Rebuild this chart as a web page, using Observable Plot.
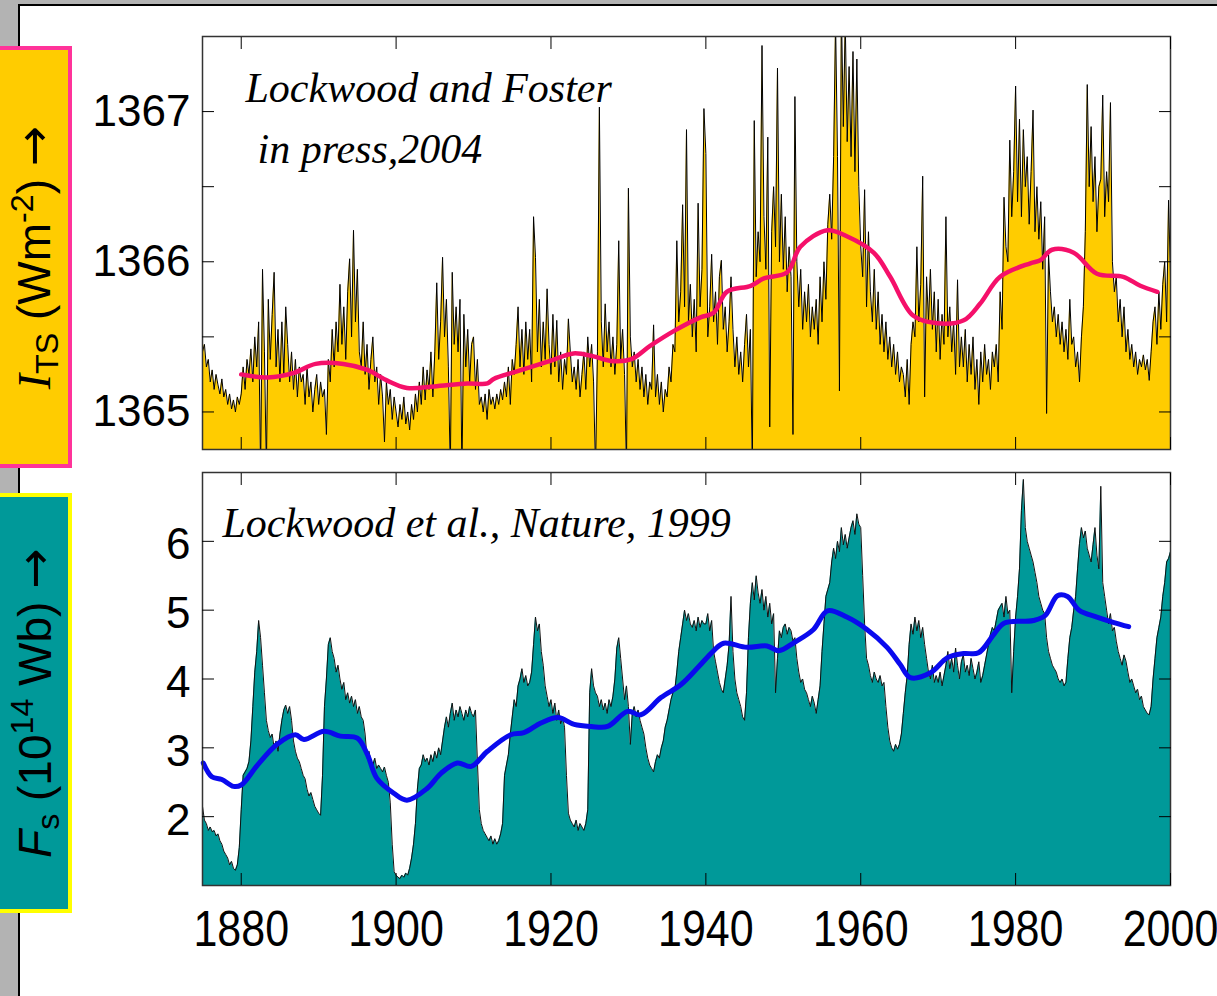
<!DOCTYPE html>
<html>
<head>
<meta charset="utf-8">
<script src="https://cdn.jsdelivr.net/npm/d3@7"></script>
<script src="https://cdn.jsdelivr.net/npm/@observablehq/plot@0.6"></script>
<style>
  html, body { margin: 0; padding: 0; background: #fff; }
  #root { position: relative; width: 1217px; height: 996px; overflow: hidden; background: #fff;
          font-family: "Liberation Sans", Arial, sans-serif; }
  .strip-left { position: absolute; left: 0; top: 0; width: 18px; height: 996px; background: #b3b3b3; }
  .strip-top { position: absolute; left: 0; top: 0; width: 1217px; height: 4px; background: #b3b3b3; }
  .line-v { position: absolute; left: 18px; top: 4px; width: 2px; height: 992px; background: #000; }
  .line-h { position: absolute; left: 18px; top: 4px; width: 1199px; height: 2px; background: #000; }
  .panel { position: absolute; left: 0; }
  .box { position: absolute; left: -4px; width: 76px; box-sizing: border-box; border: 4px solid;
         display: flex; align-items: center; justify-content: center; }
  .box .lab { transform: rotate(-90deg); white-space: nowrap; font-size: 46px; color: #000; line-height: 1; }
  .box sub, .box sup { font-size: 0.7em; line-height: 0; }
  .box sub { vertical-align: -0.25em; }
  .box sup { vertical-align: 0.55em; }
  .box .arr { font-family: "DejaVu Sans", sans-serif; font-size: 1.05em; }
</style>
</head>
<body>
<div id="root">
  <div class="strip-left"></div>
  <div class="strip-top"></div>
  <div class="line-v"></div>
  <div class="line-h"></div>
  <div id="top" class="panel" style="top:0px"></div>
  <div id="bottom" class="panel" style="top:460px"></div>
  <div class="box" style="top:46px;height:422px;background:#ffcc00;border-color:#ff3399;">
    <div class="lab"><span style="font-family:'Liberation Serif','Times New Roman',serif;font-style:italic;">I</span><sub>TS</sub> (Wm<sup>-2</sup>) <span class="arr">→</span></div>
  </div>
  <div class="box" style="top:493px;height:420px;background:#009999;border-color:#ffff00;">
    <div class="lab"><i>F</i><sub>s</sub> (10<sup>14</sup> Wb) <span class="arr">→</span></div>
  </div>
</div>
<script>
// ---------------- DATA ----------------
const xTicks = [1880, 1900, 1920, 1940, 1960, 1980, 2000];

// Top panel: total solar irradiance (W m^-2), quarterly samples from 1875.0
const tsiStartYear = 1875;
const tsiStep = 0.25;
const tsiValues = [
  1365.40, 1365.45, 1365.30, 1365.35, // 1875
  1365.20, 1365.28, 1365.15, 1365.25,
  1365.18, 1365.12, 1365.22, 1365.10,
  1365.15, 1365.05, 1365.12, 1365.02,
  1365.08, 1365.00, 1365.10, 1365.05,
  1365.12, 1365.30, 1365.15, 1365.35, // 1880
  1365.25, 1365.42, 1365.20, 1365.50,
  1365.30, 1365.60, 1364.60, 1365.95,
  1365.40, 1364.60, 1365.75, 1365.35,
  1365.65, 1365.93, 1365.30, 1365.55,
  1365.20, 1365.60, 1365.25, 1365.70, // 1885
  1365.45, 1365.20, 1365.40, 1365.15,
  1365.35, 1365.10, 1365.30, 1365.20,
  1365.25, 1365.05, 1365.30, 1365.10,
  1365.20, 1365.00, 1365.15, 1365.25,
  1365.05, 1365.20, 1365.10, 1365.15, // 1890
  1364.85, 1365.35, 1365.20, 1365.55,
  1365.30, 1365.60, 1365.40, 1365.85,
  1365.45, 1365.70, 1365.35, 1365.80,
  1366.02, 1365.50, 1366.21, 1365.60,
  1365.95, 1365.40, 1365.30, 1365.60, // 1895
  1365.25, 1365.45, 1365.15, 1365.35,
  1365.50, 1365.20, 1365.30, 1365.05,
  1365.25, 1365.10, 1364.80, 1365.20,
  1365.05, 1365.15, 1364.95, 1365.10,
  1365.00, 1364.90, 1365.05, 1364.95, // 1900
  1365.10, 1364.92, 1365.00, 1364.88,
  1365.05, 1364.95, 1365.12, 1365.00,
  1365.20, 1365.05, 1365.30, 1365.08,
  1365.28, 1365.15, 1365.40, 1365.10,
  1365.40, 1365.86, 1365.35, 1365.60, // 1905
  1366.03, 1365.50, 1365.75, 1365.30,
  1364.60, 1365.93, 1365.45, 1365.70,
  1365.40, 1365.75, 1364.60, 1365.65,
  1365.30, 1365.55, 1365.20, 1365.45,
  1365.50, 1365.15, 1365.35, 1365.05, // 1910
  1365.10, 1365.00, 1365.12, 1364.95,
  1365.15, 1365.05, 1365.10, 1365.02,
  1365.12, 1365.05, 1365.15, 1365.08,
  1365.20, 1365.10, 1365.30, 1365.05,
  1365.35, 1365.25, 1365.45, 1365.70, // 1915
  1365.30, 1365.55, 1365.25, 1365.60,
  1365.35, 1365.55, 1365.20, 1366.30,
  1366.03, 1365.40, 1365.75, 1365.30,
  1365.60, 1365.35, 1365.82, 1365.45,
  1365.25, 1365.65, 1365.30, 1365.61, // 1920
  1365.20, 1365.40, 1365.15, 1365.35,
  1365.25, 1365.62, 1365.40, 1365.20,
  1365.30, 1365.15, 1365.35, 1365.10,
  1365.25, 1365.40, 1365.15, 1365.50,
  1365.30, 1365.45, 1365.20, 1364.60, // 1925
  1365.40, 1367.03, 1365.60, 1365.30,
  1365.72, 1365.40, 1365.60, 1365.30,
  1365.50, 1365.25, 1365.45, 1366.14,
  1365.35, 1365.55, 1365.25, 1364.60,
  1366.49, 1365.50, 1365.30, 1365.40, // 1930
  1365.20, 1365.35, 1365.15, 1365.30,
  1365.10, 1365.25, 1365.05, 1365.20,
  1365.15, 1365.58, 1365.10, 1365.25,
  1365.05, 1365.20, 1365.00, 1365.15,
  1365.10, 1365.30, 1365.20, 1365.45, // 1935
  1365.40, 1366.14, 1365.60, 1365.80,
  1366.38, 1365.70, 1366.88, 1365.60,
  1365.85, 1365.50, 1365.75, 1365.40,
  1366.39, 1365.70, 1365.95, 1367.02,
  1366.72, 1365.50, 1365.70, 1366.05, // 1940
  1365.60, 1365.80, 1365.45, 1365.90,
  1366.01, 1365.55, 1365.70, 1365.40,
  1365.60, 1365.90, 1365.55, 1365.30,
  1365.50, 1365.25, 1365.40, 1365.20,
  1365.45, 1365.65, 1365.30, 1365.55, // 1945
  1364.60, 1366.94, 1365.90, 1366.20,
  1366.00, 1367.44, 1366.30, 1365.95,
  1366.83, 1364.90, 1366.20, 1366.50,
  1366.10, 1367.29, 1366.00, 1366.45,
  1365.95, 1366.30, 1365.80, 1366.10, // 1950
  1365.90, 1364.85, 1367.10, 1366.00,
  1365.70, 1365.95, 1365.55, 1365.80,
  1365.60, 1365.85, 1365.50, 1365.70,
  1365.55, 1365.75, 1365.45, 1365.90,
  1365.60, 1366.00, 1365.75, 1366.25, // 1955
  1366.45, 1366.15, 1366.70, 1367.60,
  1366.70, 1365.14, 1367.70, 1366.90,
  1367.60, 1366.80, 1367.30, 1366.70,
  1367.40, 1366.60, 1367.35, 1366.50,
  1366.10, 1365.90, 1366.48, 1365.70, // 1960
  1366.20, 1365.80, 1365.60, 1365.95,
  1365.55, 1365.80, 1365.45, 1365.65,
  1365.40, 1365.60, 1365.35, 1365.50,
  1365.30, 1365.45, 1365.25, 1365.40,
  1365.20, 1365.30, 1365.25, 1365.10, // 1965
  1365.35, 1365.05, 1365.45, 1365.60,
  1365.50, 1366.10, 1365.60, 1365.85,
  1366.57, 1365.10, 1365.90, 1365.60,
  1365.95, 1365.55, 1365.80, 1365.40,
  1365.75, 1365.35, 1365.65, 1365.45, // 1970
  1366.30, 1365.50, 1365.70, 1365.40,
  1365.60, 1365.25, 1365.88, 1365.30,
  1365.50, 1365.30, 1365.55, 1365.20,
  1365.45, 1365.25, 1365.50, 1365.15,
  1365.35, 1365.05, 1365.40, 1365.20, // 1975
  1365.45, 1365.25, 1365.35, 1365.15,
  1365.40, 1365.30, 1365.45, 1365.20,
  1365.80, 1365.55, 1366.43, 1366.10,
  1366.00, 1366.81, 1366.30, 1366.60,
  1367.17, 1366.40, 1366.95, 1366.30, // 1980
  1366.88, 1366.50, 1366.70, 1366.25,
  1366.60, 1367.01, 1366.20, 1366.50,
  1366.15, 1366.40, 1365.95, 1366.30,
  1364.99, 1366.05, 1365.80, 1365.60,
  1365.70, 1365.50, 1365.65, 1365.45, // 1985
  1365.60, 1365.40, 1365.55, 1365.35,
  1365.75, 1365.45, 1365.50, 1365.30,
  1365.40, 1365.20, 1365.50, 1365.70,
  1366.20, 1367.18, 1366.50, 1366.90,
  1366.40, 1366.70, 1366.20, 1366.50, // 1990
  1366.55, 1367.11, 1366.30, 1366.60,
  1366.40, 1367.06, 1366.00, 1365.80,
  1365.90, 1365.60, 1365.75, 1365.50,
  1365.70, 1365.40, 1365.55, 1365.35,
  1365.45, 1365.30, 1365.40, 1365.25, // 1995
  1365.35, 1365.30, 1365.38, 1365.28,
  1365.35, 1365.21, 1365.40, 1365.60,
  1365.70, 1365.45, 1365.80, 1365.55,
  1365.85, 1366.00, 1365.60, 1366.41,
  1365.90                              // 2000
];

// Top panel: smoothed TSI (pink)
const tsiSmoothYears = [1880, 1883.4, 1886.8, 1889.6, 1893.2, 1896.3, 1898.8, 1901.4, 1904.9, 1909.2,
  1911.8, 1912.6, 1915.6, 1919.9, 1922.9, 1925.5, 1927.7, 1930.3, 1932.8, 1935.9,
  1939.3, 1941.0, 1942.7, 1945.8, 1947.5, 1950.5, 1952.2, 1955.7, 1958.2, 1961.7,
  1963.8, 1966.8, 1969.9, 1973.3, 1975.4, 1978.0, 1981.9, 1983.2, 1984.7, 1987.5,
  1990.5, 1993.9, 1996.1, 1998.3];
const tsiSmoothValues = [1365.25, 1365.23, 1365.26, 1365.32, 1365.32, 1365.28, 1365.21, 1365.16, 1365.17, 1365.19,
  1365.19, 1365.22, 1365.27, 1365.34, 1365.39, 1365.37, 1365.34, 1365.35, 1365.44, 1365.54,
  1365.63, 1365.66, 1365.80, 1365.84, 1365.89, 1365.93, 1366.10, 1366.21, 1366.17, 1366.06,
  1365.90, 1365.64, 1365.59, 1365.61, 1365.72, 1365.90, 1365.99, 1366.01, 1366.08, 1366.06,
  1365.92, 1365.90, 1365.84, 1365.80];
const tsiTicks = [1365, 1365.5, 1366, 1366.5, 1367];
const tsiLabelTicks = [1365, 1366, 1367];

// Bottom panel: open solar flux (10^14 Wb), quarterly samples from 1875.0
const fluxStartYear = 1875;
const fluxStep = 0.25;
const fluxValues = [
  2.15, 1.95, 1.90, 1.80, // 1875
  1.85, 1.78, 1.80, 1.72,
  1.75, 1.65, 1.60, 1.50,
  1.45, 1.40, 1.30, 1.35,
  1.25, 1.22, 1.30, 1.55,
  2.10, 2.60, 2.65, 2.70, // 1880
  2.80, 3.10, 3.60, 4.10,
  4.40, 4.85, 4.60, 4.20,
  3.80, 3.40, 3.25, 3.15,
  3.20, 3.00, 3.10, 2.95,
  3.20, 3.40, 3.55, 3.62, // 1885
  3.50, 3.60, 3.40, 3.10,
  2.95, 2.85, 2.80, 2.70,
  2.60, 2.55, 2.40, 2.30,
  2.35, 2.25, 2.15, 2.10,
  2.05, 2.02, 2.60, 3.60, // 1890
  4.00, 4.50, 4.60, 4.40,
  4.30, 4.10, 4.20, 4.00,
  3.85, 3.95, 3.70, 3.80,
  3.65, 3.75, 3.60, 3.70,
  3.50, 3.60, 3.45, 3.40, // 1895
  3.20, 2.85, 2.95, 2.80,
  2.75, 2.85, 2.70, 2.75,
  2.70, 2.65, 2.72, 2.60,
  2.50, 2.20, 1.60, 1.20,
  1.15, 1.12, 1.10, 1.15, // 1900
  1.12, 1.18, 1.15, 1.25,
  1.40, 1.60, 1.90, 2.40,
  2.70, 2.75, 2.90, 2.80,
  2.85, 2.75, 2.90, 2.80,
  2.95, 2.85, 3.00, 2.90, // 1905
  3.10, 3.30, 3.45, 3.30,
  3.50, 3.65, 3.40, 3.55,
  3.45, 3.60, 3.50, 3.40,
  3.55, 3.45, 3.60, 3.50,
  3.45, 3.55, 2.80, 2.10, // 1910
  1.90, 1.80, 1.75, 1.70,
  1.65, 1.72, 1.60, 1.68,
  1.60, 1.65, 1.75, 1.90,
  2.60, 2.75, 2.90, 3.20,
  3.45, 3.70, 3.60, 3.90, // 1915
  4.00, 4.15, 3.95, 4.05,
  3.90, 3.95, 4.10, 4.50,
  4.90, 4.70, 4.80, 4.40,
  4.20, 3.90, 3.75, 3.60,
  3.70, 3.50, 3.65, 3.40, // 1920
  3.55, 3.35, 3.45, 3.30,
  2.60, 2.05, 1.95, 1.90,
  1.85, 1.95, 1.80, 1.90,
  1.85, 1.80, 1.90, 2.10,
  3.80, 4.15, 3.90, 3.80, // 1925
  3.75, 3.60, 3.70, 3.55,
  3.65, 3.50, 3.70, 3.60,
  3.75, 4.00, 4.45, 4.60,
  4.30, 4.00, 3.70, 3.90,
  3.60, 3.05, 3.50, 3.60, // 1930
  3.45, 3.55, 3.40, 3.30,
  3.20, 3.00, 2.85, 2.75,
  2.70, 2.65, 2.80, 2.90,
  2.85, 3.00, 3.10, 3.30,
  3.40, 3.55, 3.70, 3.80, // 1935
  3.85, 4.10, 4.40, 4.60,
  4.80, 5.00, 4.85, 4.95,
  4.80, 4.75, 4.85, 4.70,
  4.90, 4.75, 4.85, 4.80,
  4.80, 4.95, 4.70, 4.85, // 1940
  4.40, 4.25, 4.10, 3.95,
  3.85, 3.80, 4.00, 4.20,
  4.50, 5.20, 4.40, 4.00,
  3.80, 3.70, 3.60, 3.45,
  3.40, 3.80, 4.60, 5.10, // 1945
  5.40, 5.15, 5.50, 5.25,
  5.10, 5.30, 5.00, 5.20,
  4.90, 5.10, 4.80, 4.95,
  3.80, 4.30, 4.70, 4.60,
  4.75, 4.80, 4.65, 4.75, // 1950
  4.70, 4.55, 4.60, 4.30,
  4.10, 3.95, 4.00, 3.85,
  3.80, 3.70, 3.60, 3.75,
  3.65, 3.50, 3.70, 3.90,
  4.40, 4.80, 5.20, 5.30, // 1955
  5.40, 5.70, 5.90, 5.75,
  6.00, 5.85, 6.20, 5.95,
  6.10, 5.90, 6.05, 6.20,
  6.30, 6.10, 6.40, 6.25,
  6.20, 5.50, 4.80, 4.30, // 1960
  4.20, 4.05, 3.95, 4.10,
  4.00, 3.95, 4.05, 3.90,
  3.95, 3.60, 3.30, 3.10,
  3.00, 2.95, 3.05, 2.98,
  3.05, 3.20, 3.50, 3.80, // 1965
  4.05, 4.50, 4.80, 4.65,
  4.90, 4.70, 4.85, 4.60,
  4.75, 4.50, 4.30, 4.10,
  4.00, 4.20, 3.95, 4.05,
  3.95, 4.10, 3.90, 4.05, // 1970
  4.20, 4.40, 4.15, 4.30,
  4.10, 4.45, 4.20, 4.00,
  4.25, 4.35, 4.10, 4.20,
  4.05, 4.30, 4.15, 4.00,
  4.10, 4.25, 3.95, 4.05, // 1975
  4.20, 4.35, 4.50, 4.65,
  4.75, 4.70, 4.85, 5.00,
  5.05, 5.10, 4.90, 5.20,
  4.95, 5.00, 3.80, 4.40,
  4.90, 5.20, 5.60, 6.45, // 1980
  6.90, 6.20, 6.00, 5.90,
  5.80, 5.70, 5.55, 5.40,
  5.20, 5.10, 5.00, 4.95,
  4.60, 4.40, 4.30, 4.20,
  4.15, 4.10, 4.00, 3.95, // 1985
  4.00, 3.90, 3.95, 4.30,
  4.60, 4.75, 5.00, 5.20,
  5.60, 5.97, 6.20, 6.05,
  6.15, 5.90, 5.80, 5.70,
  5.95, 6.20, 5.80, 5.60, // 1990
  6.80, 5.40, 5.20, 5.00,
  4.80, 4.95, 4.70, 4.75,
  4.55, 4.40, 4.30, 4.20,
  4.35, 4.26, 4.10, 3.95,
  4.00, 3.90, 3.80, 3.85, // 1995
  3.70, 3.75, 3.60, 3.55,
  3.50, 3.48, 3.60, 4.00,
  4.30, 4.60, 4.75, 4.90,
  5.20, 5.40, 5.70, 5.75,
  5.85                    // 2000
];

// Bottom panel: smoothed flux (blue)
const fluxSmoothYears = [1875.1, 1876.2, 1877.5, 1879.0, 1880.0, 1882.1, 1884.6, 1887.0, 1888.1, 1890.7,
  1892.8, 1895.0, 1896.3, 1897.5, 1899.7, 1901.4, 1904.0, 1905.8, 1907.9, 1909.7,
  1911.8, 1914.8, 1916.5, 1918.7, 1920.9, 1923.0, 1925.2, 1927.3, 1929.9, 1931.6,
  1934.2, 1936.8, 1939.0, 1941.0, 1942.3, 1945.3, 1947.9, 1949.4, 1951.4, 1953.9,
  1955.7, 1958.2, 1960.8, 1963.4, 1965.1, 1966.4, 1969.0, 1971.2, 1973.3, 1975.2,
  1977.2, 1978.5, 1982.3, 1983.8, 1985.4, 1986.7, 1988.2, 1990.5, 1992.7, 1994.6];
const fluxSmoothValues = [2.78, 2.58, 2.54, 2.44, 2.46, 2.75, 3.05, 3.19, 3.12, 3.24,
  3.17, 3.14, 2.90, 2.56, 2.34, 2.24, 2.41, 2.63, 2.78, 2.73,
  2.95, 3.19, 3.22, 3.36, 3.44, 3.34, 3.31, 3.31, 3.53, 3.48,
  3.73, 3.92, 4.17, 4.41, 4.52, 4.46, 4.48, 4.41, 4.53, 4.72,
  4.99, 4.90, 4.72, 4.46, 4.21, 4.02, 4.09, 4.31, 4.37, 4.38,
  4.65, 4.81, 4.85, 4.92, 5.21, 5.20, 5.00, 4.90, 4.82, 4.76];
const fluxTicks = [2, 3, 4, 5, 6];

const topTitle1 = "Lockwood and Foster";
const topTitle2 = "in press,2004";
const bottomTitle = "Lockwood et al., Nature, 1999";

// ---------------- BUILD ----------------
const tsi = tsiValues.map((v, i) => ({year: tsiStartYear + i * tsiStep, value: v}));
const tsiSmooth = tsiSmoothYears.map((y, i) => ({year: y, value: tsiSmoothValues[i]}));
const flux = fluxValues.map((v, i) => ({year: fluxStartYear + i * fluxStep, value: v}));
const fluxSmooth = fluxSmoothYears.map((y, i) => ({year: y, value: fluxSmoothValues[i]}));

const serif = "'Liberation Serif', 'Times New Roman', serif";
const sans = "'Liberation Sans', Arial, sans-serif";
const blank = () => "";

const topPlot = Plot.plot({
  width: 1217, height: 460,
  marginLeft: 202, marginRight: 47, marginTop: 36, marginBottom: 11,
  x: {domain: [1875, 2000]},
  y: {domain: [1364.75, 1367.5]},
  style: {background: "transparent", fontFamily: sans, color: "#000"},
  marks: [
    Plot.areaY(tsi, {x: "year", y1: 1364, y2: "value", fill: "#ffcc00", clip: true}),
    Plot.lineY(tsi, {x: "year", y: "value", stroke: "#000", strokeWidth: 1, clip: true}),
    Plot.lineY(tsiSmooth, {x: "year", y: "value", stroke: "#f5106a", strokeWidth: 4.5, curve: "catmull-rom"}),
    Plot.frame({stroke: "#333", strokeWidth: 1.5}),
    Plot.axisX({anchor: "bottom", ticks: xTicks, tickSize: -12, tickFormat: blank, label: null}),
    Plot.axisX({anchor: "top", ticks: xTicks, tickSize: -12, tickFormat: blank, label: null}),
    Plot.axisY({anchor: "left", ticks: tsiTicks, tickSize: -12, tickFormat: blank, label: null}),
    Plot.axisY({anchor: "right", ticks: tsiTicks, tickSize: -12, tickFormat: blank, label: null}),
    Plot.axisY({anchor: "left", ticks: tsiLabelTicks, tickSize: 0, tickPadding: 12, tickFormat: "d",
                label: null, fontSize: 44, fontFamily: sans}),
    Plot.text([topTitle1], {text: d => d, frameAnchor: "top-left", textAnchor: "start", lineAnchor: "bottom",
               dx: 43, dy: 65, fontFamily: serif, fontStyle: "italic", fontSize: 42, fill: "#000"}),
    Plot.text([topTitle2], {text: d => d, frameAnchor: "top-left", textAnchor: "start", lineAnchor: "bottom",
               dx: 55, dy: 126, fontFamily: serif, fontStyle: "italic", fontSize: 42, fill: "#000"})
  ]
});
document.getElementById("top").appendChild(topPlot);

const bottomPlot = Plot.plot({
  width: 1217, height: 536,
  marginLeft: 202, marginRight: 47, marginTop: 12, marginBottom: 111,
  x: {domain: [1875, 2000]},
  y: {domain: [1, 7]},
  style: {background: "transparent", fontFamily: sans, color: "#000"},
  marks: [
    Plot.areaY(flux, {x: "year", y1: 0, y2: "value", fill: "#009999", clip: true}),
    Plot.lineY(flux, {x: "year", y: "value", stroke: "#111", strokeWidth: 1, clip: true}),
    Plot.lineY(fluxSmooth, {x: "year", y: "value", stroke: "#0a0aee", strokeWidth: 5, curve: "catmull-rom"}),
    Plot.frame({stroke: "#333", strokeWidth: 1.5}),
    Plot.axisX({anchor: "bottom", ticks: xTicks, tickSize: -12, tickFormat: blank, label: null}),
    Plot.axisX({anchor: "top", ticks: xTicks, tickSize: -12, tickFormat: blank, label: null}),
    Plot.axisX({anchor: "bottom", ticks: xTicks, tickSize: 0, tickPadding: 25, tickFormat: "d",
                label: null, fontSize: 50, fontFamily: sans}),
    Plot.axisY({anchor: "left", ticks: fluxTicks, tickSize: -12, tickFormat: blank, label: null}),
    Plot.axisY({anchor: "right", ticks: fluxTicks, tickSize: -12, tickFormat: blank, label: null}),
    Plot.axisY({anchor: "left", ticks: fluxTicks, tickSize: 0, tickPadding: 12, tickFormat: "d",
                label: null, fontSize: 44, fontFamily: sans, dy: 4}),
    Plot.text([bottomTitle], {text: d => d, frameAnchor: "top-left", textAnchor: "start", lineAnchor: "bottom",
               dx: 20, dy: 64, fontFamily: serif, fontStyle: "italic", fontSize: 42, fill: "#000"})
  ]
});
document.getElementById("bottom").appendChild(bottomPlot);

// Condense the year labels horizontally (the reference uses a narrow face)
d3.select(bottomPlot).selectAll('g[aria-label="x-axis tick label"] text').each(function () {
  const t = this.getAttribute("transform");
  if (t) {
    this.setAttribute("transform", t + " scale(0.86,1)");
  } else {
    const x = +this.getAttribute("x") || 0, y = +this.getAttribute("y") || 0;
    this.removeAttribute("x"); this.removeAttribute("y");
    this.setAttribute("transform", `translate(${x},${y}) scale(0.86,1)`);
  }
});
</script>
</body>
</html>
